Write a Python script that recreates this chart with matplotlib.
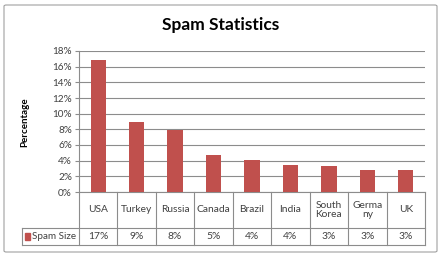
import matplotlib
matplotlib.use("Agg")
import matplotlib.pyplot as plt
from matplotlib.patches import FancyBboxPatch, Rectangle
from matplotlib.lines import Line2D

categories = ["USA", "Turkey", "Russia", "Canada", "Brazil", "India", "South\nKorea", "Germa\nny", "UK"]
spam_size = [16.9, 8.95, 7.95, 4.7, 4.05, 3.45, 3.3, 2.85, 2.85]
table_labels = ["17%", "9%", "8%", "5%", "4%", "4%", "3%", "3%", "3%"]
yticks = [0, 2, 4, 6, 8, 10, 12, 14, 16, 18]
series_name = "Spam Size"
title = "Spam Statistics"
ylabel = "Percentage"

FONT = "Lato"
BAR = "#C0504D"
TXT = "#404040"
GRID = "#8C8C8C"

W, H = 442, 256
fig = plt.figure(figsize=(W / 100, H / 100), dpi=100)
fig.patch.set_facecolor("white")

# outer chart border
fig.patches.append(FancyBboxPatch((4 / W, 4 / H), 433 / W, 247 / H,
                                  boxstyle="round,pad=0,rounding_size=0.005",
                                  transform=fig.transFigure, fill=False,
                                  edgecolor="#A0A0A0", linewidth=0.8))

ax_l, ax_r, ax_t, ax_b = 79, 425, 51, 192
ax = fig.add_axes([ax_l / W, 1 - ax_b / H, (ax_r - ax_l) / W, (ax_b - ax_t) / H])
x = list(range(len(categories)))
ax.bar(x, spam_size, width=0.4, color=BAR, zorder=3)
ax.set_xlim(-0.5, len(categories) - 0.5)
ax.set_ylim(0, 18)
ax.set_yticks(yticks)
ax.set_yticklabels([f"{v}%" for v in yticks], fontsize=7.2, color=TXT, family=FONT)
ax.set_xticks([])
ax.yaxis.grid(True, color=GRID, linewidth=0.8, zorder=0)
ax.tick_params(axis="y", length=3, color=GRID, pad=2)
for s in ["top", "right"]:
    ax.spines[s].set_visible(False)
ax.spines["left"].set_color(GRID)
ax.spines["left"].set_linewidth(0.8)
ax.spines["bottom"].set_color(GRID)
ax.spines["bottom"].set_linewidth(0.8)

# data table below axis
axh = ax_b - ax_t
r1 = -(228 - ax_b) / axh
r2 = -(245 - ax_b) / axh
trans = ax.get_xaxis_transform()
n = len(categories)
lw = 0.8
for k in range(n + 1):
    ax.add_line(Line2D([k - 0.5, k - 0.5], [0, r2], transform=trans, color=GRID,
                       linewidth=lw, clip_on=False))
colw = (ax_r - ax_l) / n
left_x = -0.5 - (ax_l - 22) / colw
for yy in [r1, r2]:
    ax.add_line(Line2D([left_x, n - 0.5], [yy, yy], transform=trans, color=GRID,
                       linewidth=lw, clip_on=False))
ax.add_line(Line2D([left_x, left_x], [r1, r2], transform=trans, color=GRID,
                   linewidth=lw, clip_on=False))
for i, c in enumerate(categories):
    ax.text(i, (0 + r1) / 2, c, transform=trans, ha="center", va="center",
            fontsize=7.4, color=TXT, family=FONT, linespacing=1.1)
    ax.text(i, (r1 + r2) / 2, table_labels[i], transform=trans, ha="center", va="center",
            fontsize=7.4, color=TXT, family=FONT)
# legend key
ax.add_patch(Rectangle((left_x + 0.08, (r1 + r2) / 2 - 0.022), 0.13, 0.044,
                       transform=trans, color=BAR, clip_on=False))
ax.text(left_x + 0.26, (r1 + r2) / 2, series_name, transform=trans, ha="left", va="center",
        fontsize=7.1, color=TXT, family=FONT)

fig.text(221 / W, 1 - 25 / H, title, ha="center", va="center", fontsize=12.5,
         fontweight="bold", family=FONT, color="black")
fig.text(25 / W, 1 - 122 / H, ylabel, ha="center", va="center", rotation=90,
         fontsize=7, fontweight="bold", family=FONT, color="black")

fig.savefig("out.png", dpi=100, facecolor="white")
